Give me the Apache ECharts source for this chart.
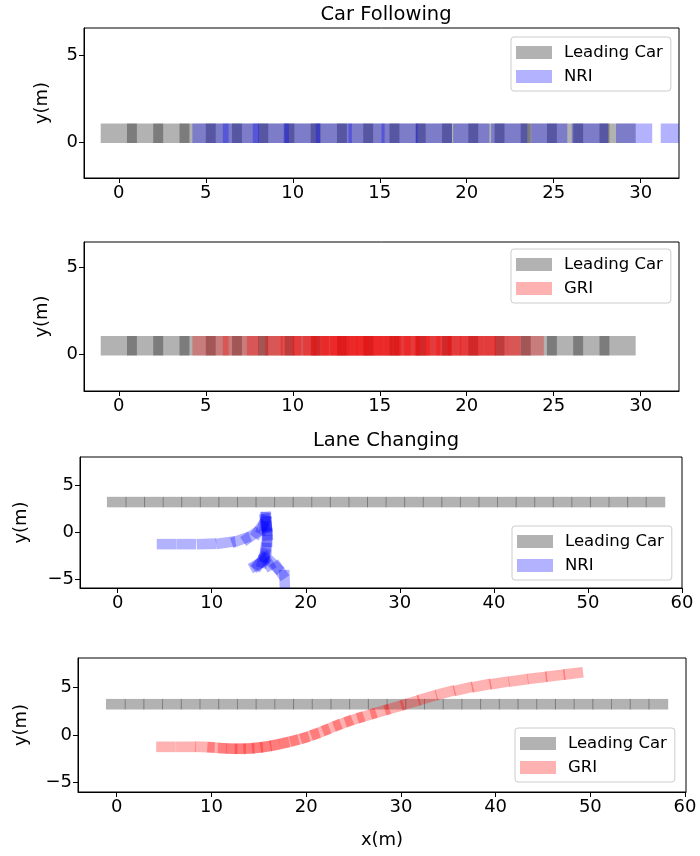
<!DOCTYPE html>
<html>
<head>
<meta charset="utf-8">
<script src="https://cdn.jsdelivr.net/npm/echarts@6.0.0/dist/echarts.min.js"></script>
<style>
  html, body { margin: 0; padding: 0; background: #fff; }
  #chart { width: 700px; height: 856px; }
</style>
</head>
<body>
<div id="chart"></div>
<script>
// car footprint (m)
const CAR_LEN = 2.08
const CAR_WID = 1.12

// car following: centre x of every footprint
const followY = 0.5
const followLeadX = [0, 1.51, 3.02, 4.53, 6.04, 7.55, 9.05, 10.56, 12.07, 13.58, 15.09, 16.6, 18.11, 19.62, 21.13, 22.64, 24.14, 25.65, 27.16, 28.67]
const followNriX = [5.27, 7.02, 8.74, 10.52, 12.36, 14.24, 16.14, 18.11, 20.26, 22.44, 24.74, 27.08, 29.62, 32.19]
const followGriX = [5.27, 7.02, 8.4, 9.44, 10.34, 11.04, 11.64, 12.19, 12.69, 13.19, 13.69, 14.19, 14.69, 15.19, 15.74, 16.29, 16.84, 17.44, 18.04, 18.64, 19.29, 19.94, 20.64, 21.34, 22.04, 23.39]

// lane changing: leading car centre x (y fixed), ego cars as [x, y, heading deg]
const laneLeadY = 3.25
const laneLeadX = [-0.1, 1.88, 3.85, 5.83, 7.8, 9.78, 11.75, 13.73, 15.7, 17.68, 19.65, 21.63, 23.6, 25.58, 27.55, 29.53, 31.5, 33.48, 35.45, 37.43, 39.4, 41.38, 43.35, 45.33, 47.3, 49.28, 51.25, 53.23, 55.2, 57.18]
const laneNri = [
  [5.2, -1.22, 0], [7.3, -1.22, 0], [9.45, -1.2, 2], [11.5, -1.05, 8], [13.1, -0.75, 20],
  [14.2, -0.35, 35], [15.1, 0.35, 55], [15.5, 0.85, 70], [15.7, 1.15, 85], [15.8, 1.2, 95],
  [15.75, 1.0, 100], [15.85, 0.7, 92], [15.9, 0.2, -85], [15.9, -0.5, -90], [15.85, -1.3, -92],
  [15.7, -2.1, -95], [15.5, -2.7, -105], [15.25, -3.05, -125], [15.0, -3.3, -150], [15.2, -3.2, -140],
  [15.9, -3.05, -60], [16.6, -3.4, -45], [17.2, -4.0, -55], [17.75, -5.0, -88]
]
const laneGriX = [5.2, 7.3, 9.3, 10.6, 11.7, 12.6, 13.5, 14.4, 15.3, 16.2, 17.2, 18.2, 19.3, 20.4, 21.5, 22.7, 23.9, 25.1, 26.4, 27.8, 29.3, 31.0, 32.8, 34.7, 36.6, 38.5, 40.4, 42.4, 44.4, 46.3, 48.2]
const laneGriY = [-1.25, -1.25, -1.27, -1.35, -1.42, -1.45, -1.44, -1.38, -1.28, -1.15, -0.95, -0.72, -0.45, -0.1, 0.3, 0.8, 1.25, 1.65, 2.05, 2.46, 2.9, 3.4, 3.95, 4.47, 4.87, 5.22, 5.5, 5.77, 6.03, 6.27, 6.5]
const laneGriH = [0, 0, -2, -4, -3, -1, 1, 4, 7, 10, 12, 14, 16, 18, 20, 22, 21, 19, 17, 16, 16, 16, 16, 15, 13, 11, 9, 8, 7, 7, 7]

const FONT = 'DejaVu Sans'
const GRAY = 'rgba(0,0,0,0.3)'
const BLUE = 'rgba(0,0,255,0.3)'
const RED = 'rgba(255,0,0,0.3)'

function carSeries(name, data, color, idx) {
  return {
    type: 'custom',
    name: name,
    xAxisIndex: idx,
    yAxisIndex: idx,
    encode: { x: 0, y: 1 },
    data: data,
    renderItem: function(params, api) {
      const cx = api.value(0)
      const cy = api.value(1)
      const a = api.value(2) * Math.PI / 180
      const c = Math.cos(a)
      const s = Math.sin(a)
      const hl = CAR_LEN / 2
      const hw = CAR_WID / 2
      const pts = [[hl, hw], [-hl, hw], [-hl, -hw], [hl, -hw]].map(function(p) {
        return api.coord([cx + p[0] * c - p[1] * s, cy + p[0] * s + p[1] * c])
      })
      const cs = params.coordSys
      return {
        type: 'polygon',
        shape: { points: pts },
        style: { fill: color },
        clipPath: { type: 'rect', shape: { x: cs.x, y: cs.y, width: cs.width, height: cs.height } }
      }
    }
  }
}

function minus(v) {
  return String(v).replace('-', '\u2212')
}

function axis(idx, min, max, ticks, extra) {
  return Object.assign({
    type: 'value',
    gridIndex: idx,
    min: min,
    max: max,
    axisLine: { show: true, onZero: false, lineStyle: { color: '#000', width: 1 } },
    axisTick: { show: true, length: 5, customValues: ticks, lineStyle: { color: '#000' } },
    axisLabel: { customValues: ticks, fontFamily: FONT, fontSize: 18, color: '#000', margin: 6, formatter: minus },
    splitLine: { show: false }
  }, extra || {})
}

function yName(gap) {
  return { name: 'y(m)', nameLocation: 'middle', nameGap: gap, nameTextStyle: { fontFamily: FONT, fontSize: 18, color: '#000' } }
}

function legendAt(left, top, names, colors) {
  return {
    left: left,
    top: top,
    orient: 'vertical',
    icon: 'rect',
    itemWidth: 36,
    itemHeight: 13,
    itemGap: 7,
    padding: [7, 8, 6, 5],
    borderColor: '#ccc',
    borderWidth: 1,
    borderRadius: 3,
    backgroundColor: 'rgba(255,255,255,0.8)',
    selectedMode: false,
    textStyle: { fontFamily: FONT, fontSize: 16.5, color: '#000', lineHeight: 17, padding: [0, 0, 0, 7] },
    data: names.map(function(n, i) { return { name: n, itemStyle: { color: colors[i] } } })
  }
}

const xs = [0, 5, 10, 15, 20, 25, 30]
const xl = [0, 10, 20, 30, 40, 50, 60]

const leadFollow = followLeadX.map(function(x) { return [x, followY, 0] })
const leadLane = laneLeadX.map(function(x) { return [x, laneLeadY, 0] })

const chart = echarts.init(document.getElementById('chart'))
chart.setOption({
  animation: false,
  backgroundColor: '#fff',
  title: [
    { text: 'Car Following', left: 381, top: 0, textAlign: 'center', textStyle: { fontFamily: FONT, fontSize: 19.5, fontWeight: 'normal', color: '#000' } },
    { text: 'Lane Changing', left: 381, top: 426, textAlign: 'center', textStyle: { fontFamily: FONT, fontSize: 19.5, fontWeight: 'normal', color: '#000' } }
  ],
  grid: [
    { left: 84, top: 28, width: 595, height: 150, show: true, borderColor: '#000', borderWidth: 1 },
    { left: 84, top: 242, width: 595, height: 149, show: true, borderColor: '#000', borderWidth: 1 },
    { left: 80, top: 457, width: 602, height: 131, show: true, borderColor: '#000', borderWidth: 1 },
    { left: 78, top: 658, width: 608, height: 134, show: true, borderColor: '#000', borderWidth: 1 }
  ],
  xAxis: [
    axis(0, -2, 32.2, xs),
    axis(1, -2, 32.2, xs),
    axis(2, -4, 60, xl),
    axis(3, -4.09, 60.1, xl, { name: 'x(m)', nameLocation: 'middle', nameGap: 39, nameTextStyle: { fontFamily: FONT, fontSize: 18, color: '#000' } })
  ],
  yAxis: [
    axis(0, -2.07, 6.55, [0, 5], yName(33)),
    axis(1, -2.1, 6.45, [0, 5], yName(33)),
    axis(2, -5.88, 8.04, [-5, 0, 5], yName(50)),
    axis(3, -6.02, 8.13, [-5, 0, 5], yName(48))
  ],
  legend: [
    legendAt(511, 37, ['Leading Car', 'NRI'], ['#b2b2b2', '#b2b2ff']),
    legendAt(511, 249, ['Leading Car', 'GRI'], ['#b2b2b2', '#ffb2b2']),
    legendAt(512, 526, ['Leading Car', 'NRI'], ['#b2b2b2', '#b2b2ff']),
    legendAt(515, 728, ['Leading Car', 'GRI'], ['#b2b2b2', '#ffb2b2'])
  ],
  series: [
    carSeries('Leading Car', leadFollow, GRAY, 0),
    carSeries('NRI', followNriX.map(function(x) { return [x, followY, 0] }), BLUE, 0),
    carSeries('Leading Car', leadFollow, GRAY, 1),
    carSeries('GRI', followGriX.map(function(x) { return [x, followY, 0] }), RED, 1),
    carSeries('Leading Car', leadLane, GRAY, 2),
    carSeries('NRI', laneNri, BLUE, 2),
    carSeries('Leading Car', leadLane, GRAY, 3),
    carSeries('GRI', laneGriX.map(function(x, i) { return [x, laneGriY[i], laneGriH[i]] }), RED, 3)
  ]
})
</script>
</body>
</html>
